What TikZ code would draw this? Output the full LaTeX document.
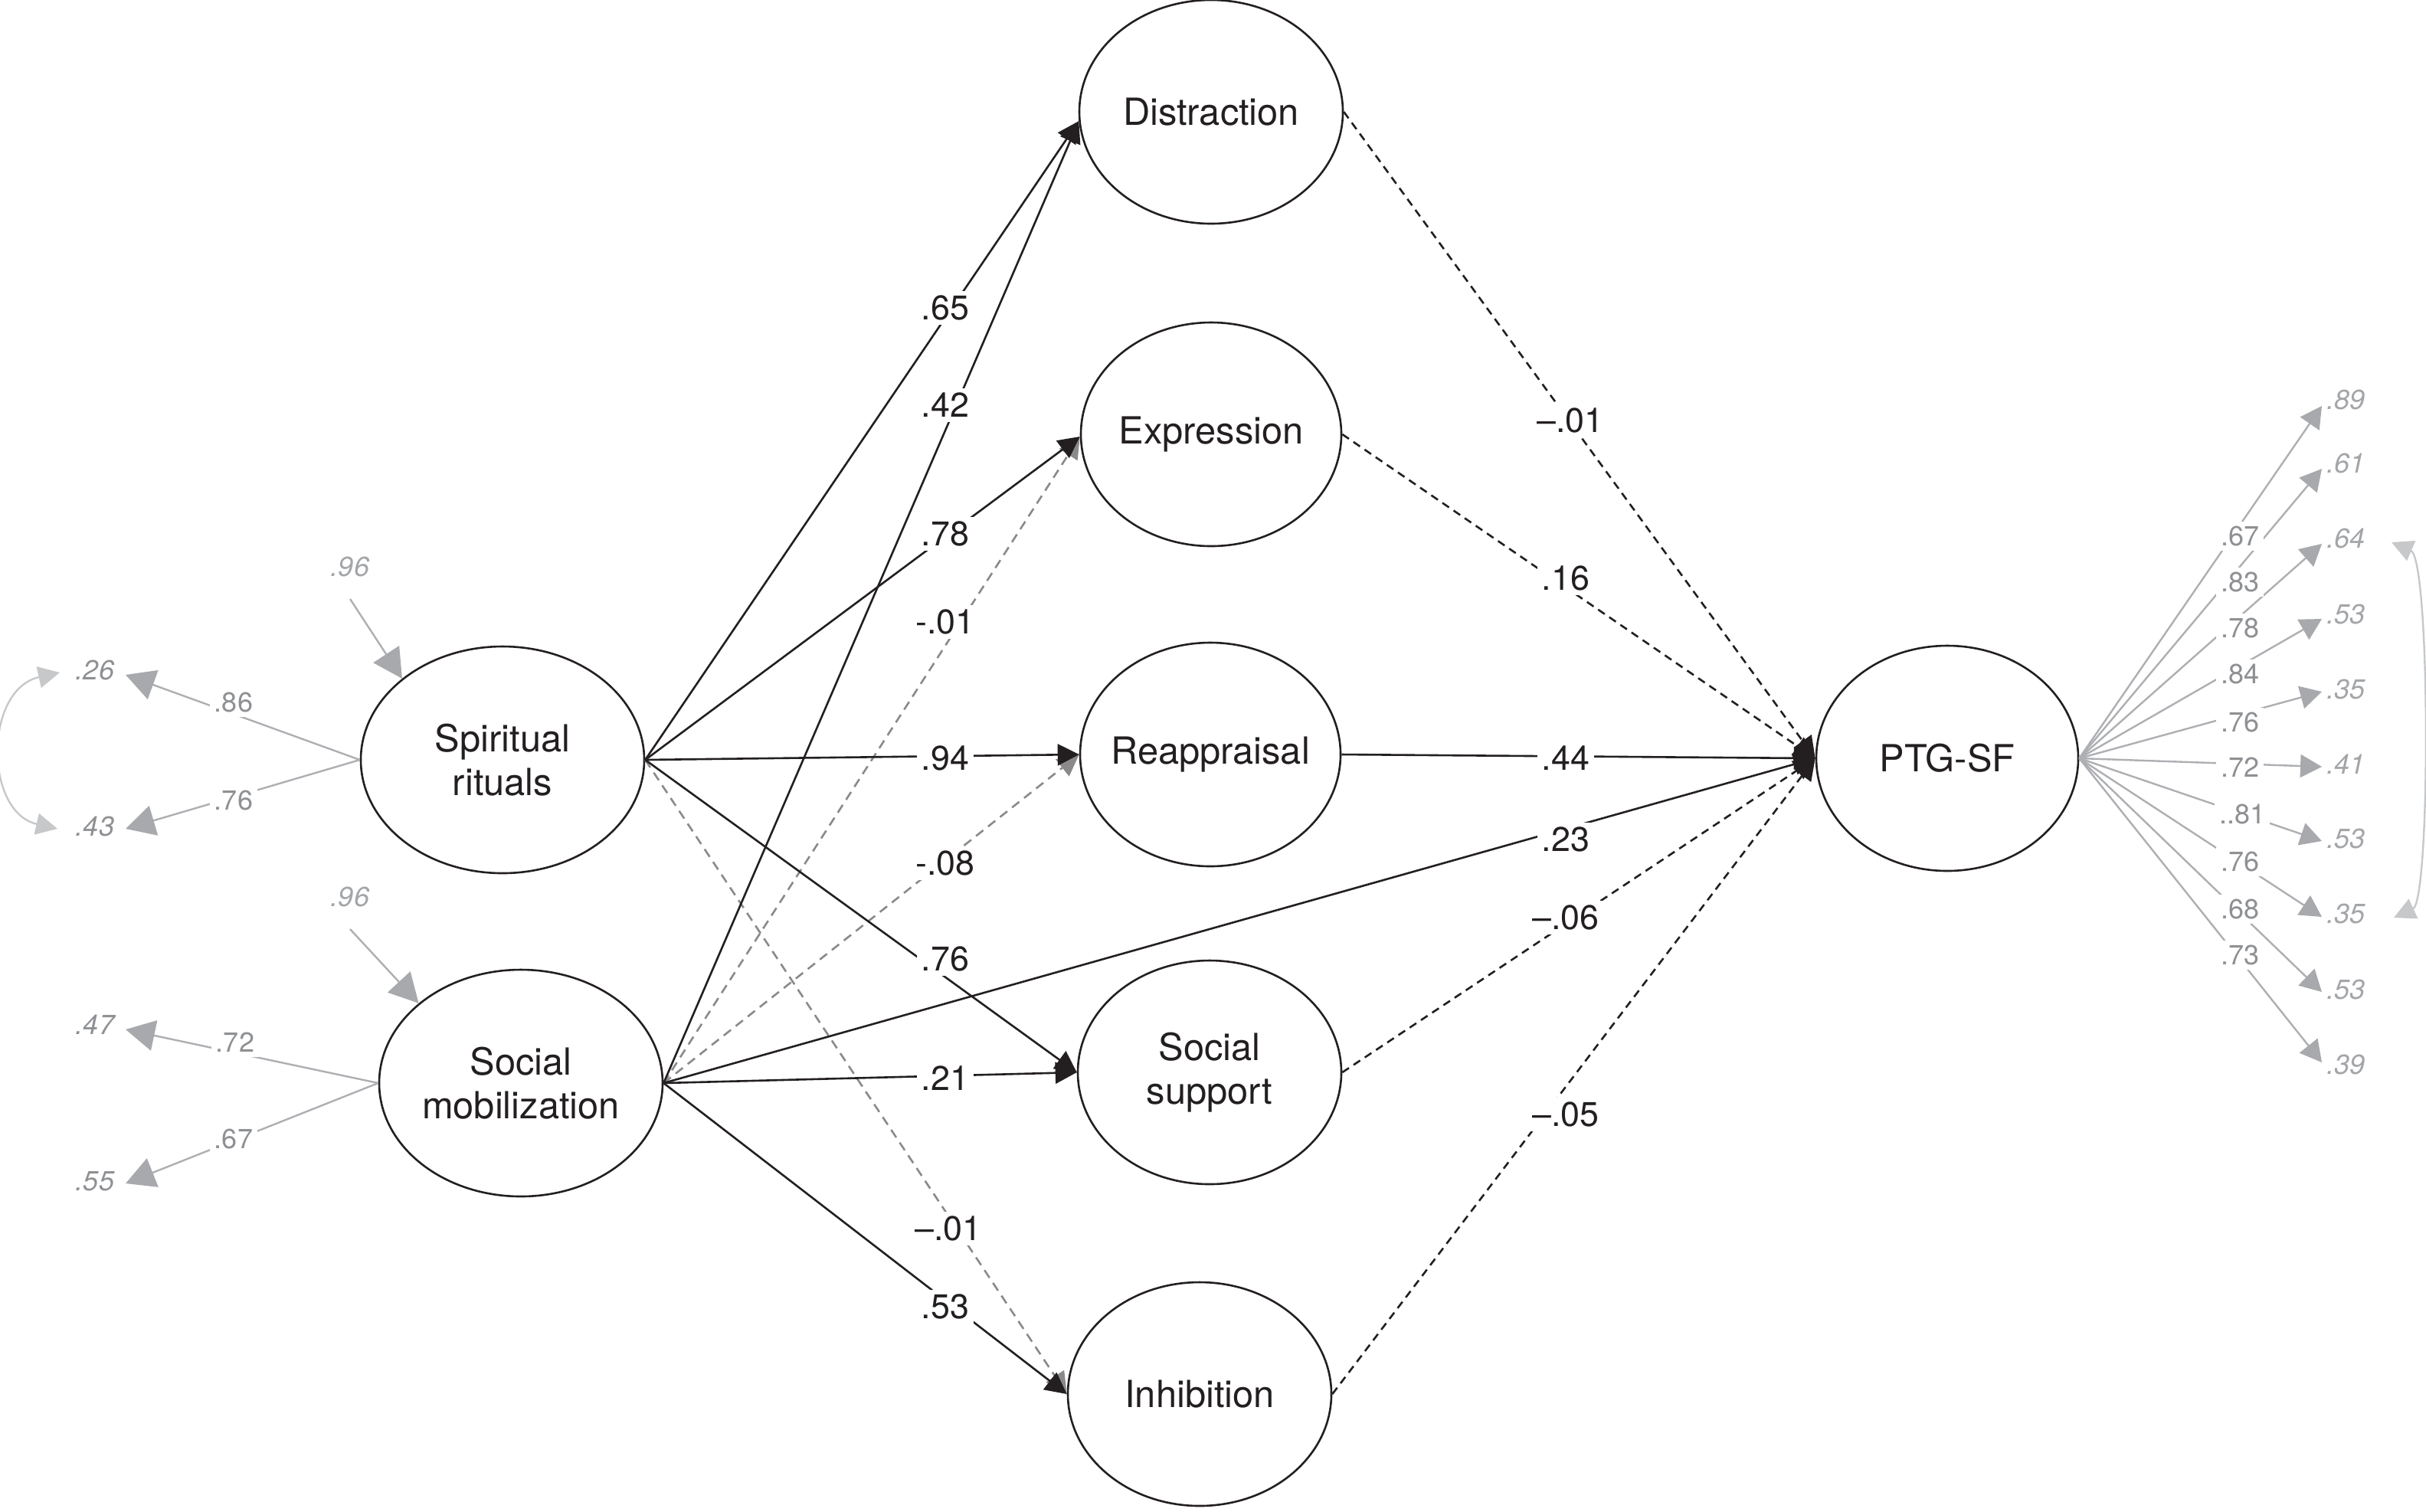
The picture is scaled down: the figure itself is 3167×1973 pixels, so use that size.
\documentclass[tikz,border=0pt]{standalone}
\usepackage{fontspec}
\setmainfont{TeX Gyre Heros}
\usetikzlibrary{shapes.geometric,arrows.meta,calc}
\definecolor{ink}{HTML}{231F20}
\definecolor{gline}{HTML}{ADAFB2}
\definecolor{ghead}{HTML}{A7A9AC}
\definecolor{glab}{HTML}{8E9093}
\definecolor{gval}{HTML}{A3A5A8}
\definecolor{garc}{HTML}{C7C8CA}
\definecolor{gdash}{HTML}{8A8A8A}
\begin{document}
\begin{tikzpicture}[x=0.25pt,y=-0.25pt,
  latent/.style={ellipse,draw=ink,line width=0.65pt,fill=white,inner xsep=-14pt,inner ysep=0pt,
    font=\fontsize{12.2}{14.3}\selectfont,text=ink,align=center},
  sig/.style={draw=ink,line width=0.65pt,-{Triangle[length=7pt,width=7pt]}},
  nsig/.style={draw=ink,line width=0.65pt,dash pattern=on 2.6pt off 1.8pt,-{Triangle[length=7pt,width=7pt]}},
  gsig/.style={draw=gdash,line width=0.65pt,dash pattern=on 3pt off 2pt,-{Triangle[length=7pt,width=7pt]}},
  lab/.style={fill=white,inner sep=1.5pt,font=\fontsize{11.2}{12}\selectfont,text=ink},
  indline/.style={draw=gline,line width=0.6pt,-{Triangle[length=9.5pt,width=10pt,color=ghead]}},
  fanline/.style={draw=gline,line width=0.6pt,-{Triangle[length=7pt,width=7.5pt,color=ghead]}},
  arcline/.style={draw=garc,line width=0.6pt,{Triangle[length=7pt,width=7pt]}-{Triangle[length=7pt,width=7pt]}},
  gl/.style={fill=white,inner sep=1.5pt,font=\fontsize{9}{10}\selectfont,text=glab},
  gv/.style={inner sep=1pt,font=\fontsize{9}{10}\selectfont\itshape,text=gval},
  gvl/.style={inner sep=1pt,font=\fontsize{9}{10}\selectfont\itshape,text=glab}
]
\useasboundingbox (0,0) rectangle (3167,1973);

% latent variables
\node[latent,minimum width=92.5pt,minimum height=74pt] (sr) at (656,992) {Spiritual\\rituals};
\node[latent,minimum width=92.5pt,minimum height=74pt] (sm) at (680,1414) {Social\\mobilization};
\node[latent,minimum width=86pt,minimum height=73pt] (dist) at (1581,146) {Distraction};
\node[latent,minimum width=85pt,minimum height=73pt] (expr) at (1581,567) {Expression};
\node[latent,minimum width=85pt,minimum height=73pt] (reap) at (1580,985) {Reappraisal};
\node[latent,minimum width=86pt,minimum height=73pt] (soc) at (1579,1400) {Social\\support};
\node[latent,minimum width=86pt,minimum height=73pt] (inh) at (1566,1820) {Inhibition};
\node[latent,minimum width=85.5pt,minimum height=73.5pt] (ptg) at (2542,990) {PTG-SF};

% structural paths
\draw[gsig] (sm.east) -- (expr.181);
\draw[gsig] (sm.east) -- (reap.west);
\draw[gsig] (sr.east) -- (inh.west);
\draw[sig] (sr.east) -- (dist.184);
\draw[sig] (sm.east) -- (dist.184);
\draw[sig] (sr.east) -- (expr.181);
\draw[sig] (sr.east) -- (reap.west);
\draw[sig] (sr.east) -- (soc.west);
\draw[sig] (sm.east) -- (soc.west);
\draw[sig] (sm.east) -- (inh.west);
\draw[sig] (sm.east) -- (ptg.west);
\draw[nsig] (dist.east) -- (ptg.west);
\draw[nsig] (expr.east) -- (ptg.west);
\draw[sig] (reap.east) -- (ptg.west);
\draw[nsig] (soc.east) -- (ptg.west);
\draw[nsig] (inh.east) -- (ptg.west);

% path labels
\node[lab] (p1) at (1234,402) {.65};
\node[lab] (p2) at (1234,529) {.42};
\node[lab] (p3) at (1234,697) {.78};
\node[lab] (p4) at (1234,812) {-.01};
\node[lab] (p5) at (1234,990) {.94};
\node[lab] (p6) at (1234,1127) {-.08};
\node[lab] (p7) at (1234,1252) {.76};
\node[lab] (p8) at (1234,1408) {.21};
\node[lab] (p9) at (1238,1604) {–.01};
\node[lab] (p10) at (1234,1706) {.53};
\node[lab] (p11) at (2044,1096) {.23};
\node[lab] (p12) at (2050,549) {–.01};
\node[lab] (p13) at (2044,755) {.16};
\node[lab] (p14) at (2044,990) {.44};
\node[lab] (p15) at (2044,1198) {–.06};
\node[lab] (p16) at (2044,1455) {–.05};

% left indicators
\coordinate (t26) at (164,881);
\coordinate (t43) at (164,1082);
\coordinate (t47) at (164,1344);
\coordinate (t55) at (164,1545);
\draw[indline] (sr.west) -- (t26);
\draw[indline] (sr.west) -- (t43);
\draw[indline] (sm.west) -- (t47);
\draw[indline] (sm.west) -- (t55);
\node[gl] (l86) at (305,917) {.86};
\node[gl] (l76) at (305,1045) {.76};
\node[gl] (l72) at (307,1361) {.72};
\node[gl] (l67) at (305,1487) {.67};
\node[gvl] (v26) at (124,875) {.26};
\node[gvl] (v43) at (124,1079) {.43};
\node[gvl] (v47) at (124,1338) {.47};
\node[gvl] (v55) at (124,1542) {.55};
\coordinate (a26) at (78,878);
\coordinate (a43) at (75,1082);
\draw[arcline] (a26) .. controls (-21,900) and (-21,1060) .. (a43);

% disturbances
\node[gv] (d1) at (457,740) {.96};
\node[gv] (d2) at (457,1171) {.96};
\coordinate (d1s) at (457,782);
\coordinate (d2s) at (457,1213);
\draw[indline] (d1s) -- (sr.141);
\draw[indline] (d2s) -- (sm.142);

% PTG-SF indicators
\foreach \i/\ty in {1/530,2/612,3/710,4/808,5/903,6/1001,7/1098,8/1197,9/1295,10/1387}{
  \coordinate (f\i) at (3031,\ty);
  \draw[fanline] (ptg.east) -- (f\i);
}
\node[gl] (k1) at (2924,700) {.67};
\node[gl] (k2) at (2924,760) {.83};
\node[gl] (k3) at (2924,820) {.78};
\node[gl] (k4) at (2924,880) {.84};
\node[gl] (k5) at (2924,943) {.76};
\node[gl] (k6) at (2924,1002) {.72};
\node[gl] (k7) at (2927,1063) {..81};
\node[gl] (k8) at (2924,1125) {.76};
\node[gl] (k9) at (2924,1187) {.68};
\node[gl] (k10) at (2924,1247) {.73};
\node[gv] (w1) at (3062,522) {.89};
\node[gv] (w2) at (3062,605) {.61};
\node[gv] (w3) at (3062,703) {.64};
\node[gv] (w4) at (3062,802) {.53};
\node[gv] (w5) at (3062,900) {.35};
\node[gv] (w6) at (3062,998) {.41};
\node[gv] (w7) at (3062,1095) {.53};
\node[gv] (w8) at (3062,1193) {.35};
\node[gv] (w9) at (3062,1292) {.53};
\node[gv] (w10) at (3062,1390) {.39};
\coordinate (b1) at (3122,708);
\coordinate (b2) at (3125,1198);
\draw[arcline] (b1) .. controls (3173,730) and (3173,1176) .. (b2);
\end{tikzpicture}
\end{document}
